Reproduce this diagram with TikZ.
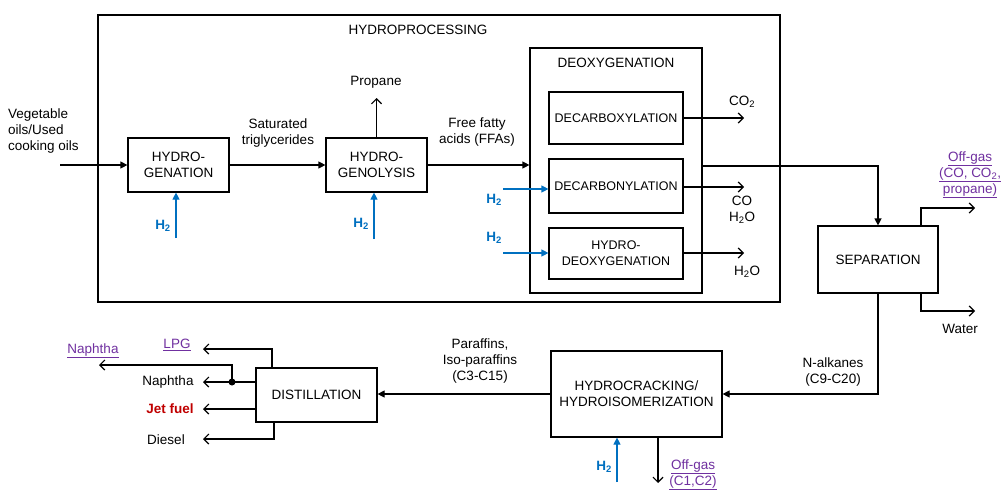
\documentclass[tikz,border=0pt]{standalone}
\usepackage{fontspec}
\setmainfont{Liberation Sans}
\usetikzlibrary{arrows.meta,calc}
\definecolor{hblue}{HTML}{0070C0}
\definecolor{hpurple}{HTML}{7030A0}
\definecolor{hred}{HTML}{C00000}
\tikzset{
  txt/.style={font=\fontsize{13.5}{16}\selectfont, inner sep=0pt, align=center},
  box/.style={draw, line width=1.2pt, txt, minimum width=#1},
  arr/.style={line width=1.2pt, -{Triangle[length=7pt,width=7pt]}},
  oarr/.style={line width=1.2pt, -{Straight Barb[length=5pt,width=10pt]}},
  barr/.style={hblue, line width=1.2pt, -{Triangle[length=7pt,width=7pt]}},
  hlab/.style={txt, text=hblue, font=\fontsize{13.5}{16}\selectfont\bfseries},
  plab/.style={txt, text=hpurple},
}
\begin{document}
\begin{tikzpicture}[x=1pt,y=-1pt]
\useasboundingbox (0,0) rectangle (1003,490);
\fill[white] (0,0) rectangle (1003,490);

% big hydroprocessing frame
\node[box=682pt, minimum height=287pt] (hp) at (439,158.5) {};
\node[txt] (hptitle) at (418,30) {HYDROPROCESSING};

% boxes
\node[box=101pt, minimum height=54pt] (hydro) at (178.5,165) {HYDRO-\\GENATION};
\node[box=101pt, minimum height=54pt] (genol) at (376.5,165) {HYDRO-\\GENOLYSIS};
\node[box=172pt, minimum height=245pt] (deox) at (616,170.5) {};
\node[txt] (deoxt) at (616,63) {DEOXYGENATION};
\node[box=134pt, minimum height=52pt, font=\fontsize{12.5}{16}\selectfont] (dcx) at (616,118) {DECARBOXYLATION};
\node[box=134pt, minimum height=54pt, font=\fontsize{12.5}{16}\selectfont] (dcn) at (616,186) {DECARBONYLATION};
\node[box=134pt, minimum height=51pt, font=\fontsize{12.5}{16}\selectfont] (hdo) at (616,253.5) {HYDRO-\\DEOXYGENATION};
\node[box=120pt, minimum height=67pt] (sep) at (878,259.5) {SEPARATION};
\node[box=171pt, minimum height=86pt] (hc) at (636.5,394) {HYDROCRACKING/\\HYDROISOMERIZATION};
\node[box=121pt, minimum height=54pt] (dist) at (316.5,395) {DISTILLATION};

% feed
\coordinate (feed) at (60,165);
\node[txt, anchor=west, align=left] (feedl) at (8,131) {Vegetable\\oils/Used\\cooking oils};
\draw[arr] (feed) -- (hydro.west);

\draw[arr] (hydro.east) -- (genol.west);
\node[txt] (satl) at (278,133) {Saturated\\triglycerides};

\draw[arr] (genol.east) -- (genol.east -| deox.west);
\node[txt] (ffal) at (477,132) {Free fatty\\acids (FFAs)};

\coordinate (prop) at (376.5,98);
\draw[oarr] (genol.north) -- (prop);
\node[txt] (propl) at (376,82) {Propane};

% H2 feeds
\coordinate (h2a) at (176,238);
\draw[barr] (h2a) -- (h2a |- hydro.south);
\node[hlab] (h2al) at (163,226) {H\textsubscript{2}};
\coordinate (h2b) at (374,239);
\draw[barr] (h2b) -- (h2b |- genol.south);
\node[hlab] (h2bl) at (361,224) {H\textsubscript{2}};
\coordinate (h2c) at (503,189);
\draw[barr] (h2c) -- (h2c -| dcn.west);
\node[hlab] (h2cl) at (494,200) {H\textsubscript{2}};
\coordinate (h2d) at (503,253);
\draw[barr] (h2d) -- (h2d -| hdo.west);
\node[hlab] (h2dl) at (494,238) {H\textsubscript{2}};

% deoxygenation products
\coordinate (co2) at (744,118);
\draw[oarr] (dcx.east) -- (co2);
\node[txt] (co2l) at (742,102) {CO\textsubscript{2}};
\coordinate (co) at (744,187);
\draw[oarr] (dcn.east |- co) -- (co);
\node[txt] (col) at (742,210) {CO\\H\textsubscript{2}O};
\coordinate (h2o) at (744,253);
\draw[oarr] (hdo.east |- h2o) -- (h2o);
\node[txt] (h2ol) at (747,272) {H\textsubscript{2}O};

% deox to separation
\draw[arr] (deox.east |- 0,166) -| (sep.north);

% separation products
\coordinate (og) at (975,208);
\draw[oarr] ([xshift=43pt]sep.north) |- (og);
\node[plab] (ogl) at (970,175) {\underline{Off-gas}\\\underline{(CO, CO\textsubscript{2},}\\\underline{propane)}};
\coordinate (wt) at (975,311);
\draw[oarr] ([xshift=43pt]sep.south) |- (wt);
\node[txt] (wtl) at (960,329) {Water};

% separation to hydrocracking
\draw[arr] (sep.south) |- (hc.east);
\node[txt] (nal) at (833,372) {N-alkanes\\(C9-C20)};

% hydrocracking
\coordinate (h2e) at (617,482);
\draw[barr] (h2e) -- (h2e |- hc.south);
\node[hlab] (h2el) at (604,467) {H\textsubscript{2}};
\coordinate (og2) at (658,483);
\draw[oarr] (og2 |- hc.south) -- (og2);
\node[plab] (og2l) at (693,475) {\underline{Off-gas}\\\underline{(C1,C2)}};

\draw[arr] (hc.west) -- (hc.west -| dist.east);
\node[txt] (parl) at (480,361) {Paraffins,\\Iso-paraffins\\(C3-C15)};

% distillation products
\coordinate (lpg) at (203,349);
\draw[oarr] ([xshift=-44.5pt]dist.north) |- (lpg);
\node[plab] (lpgl) at (177,345) {\underline{LPG}};
\coordinate (nap) at (203,382);
\coordinate (jn) at (232,382);
\draw[oarr] (dist.west |- nap) -- (nap);
\fill (jn) circle (3.5pt);
\coordinate (nap2) at (99,365);
\draw[oarr] (jn) |- (nap2);
\node[plab] (nap2l) at (93,351) {\underline{Naphtha}};
\node[txt] (napl) at (168,382) {Naphtha};
\coordinate (jet) at (203,409);
\draw[oarr] (dist.west |- jet) -- (jet);
\node[txt, text=hred, font=\fontsize{13.5}{16}\selectfont\bfseries] (jetl) at (170,409) {Jet fuel};
\coordinate (dsl) at (203,439);
\draw[oarr] ([xshift=-42.5pt]dist.south) |- (dsl);
\node[txt] (dsll) at (166,440) {Diesel};
\end{tikzpicture}
\end{document}
